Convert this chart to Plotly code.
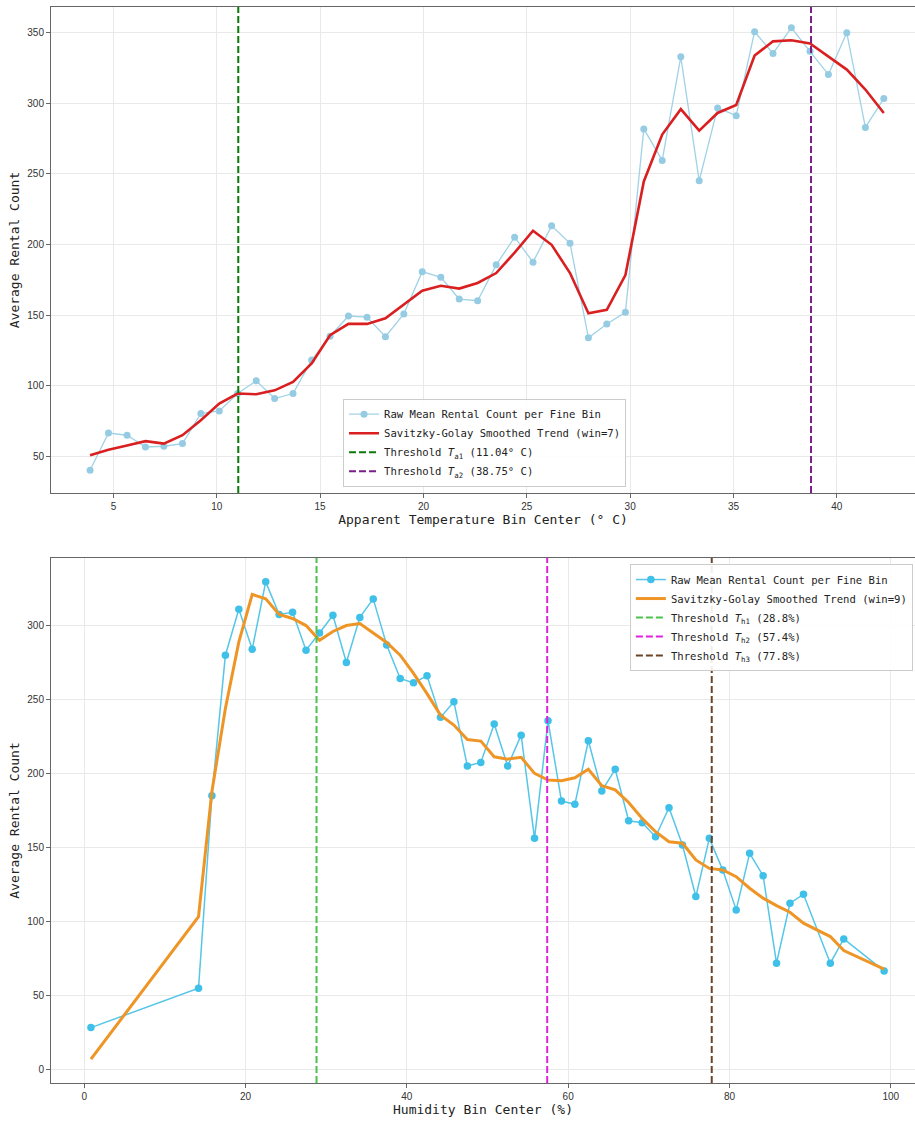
import plotly.graph_objects as go

# ---------------- data: apparent temperature panel ----------------
temp_bin_center = [3.87, 4.76, 5.66, 6.55, 7.44, 8.34, 9.23, 10.12, 11.01, 11.91,
                   12.80, 13.69, 14.59, 15.48, 16.37, 17.27, 18.16, 19.05, 19.94, 20.84,
                   21.73, 22.62, 23.52, 24.41, 25.30, 26.20, 27.09, 27.98, 28.87, 29.77,
                   30.66, 31.55, 32.45, 33.34, 34.23, 35.13, 36.02, 36.91, 37.80, 38.70,
                   39.59, 40.48, 41.38, 42.27]
temp_raw_mean = [40.1, 66.5, 64.9, 56.6, 57.1, 59.0, 80.3, 82.1, 94.4, 103.4,
                 90.9, 94.4, 118.1, 135.0, 149.3, 148.5, 134.6, 150.7, 180.7, 176.7,
                 161.3, 160.1, 185.5, 205.1, 187.4, 213.1, 200.8, 133.9, 143.6, 151.9,
                 281.7, 259.4, 332.7, 245.0, 296.6, 291.1, 350.5, 335.1, 353.3, 336.7,
                 320.2, 349.7, 282.8, 303.2]
temp_smoothed = [50.7, 54.7, 57.7, 60.7, 59.0, 64.9, 75.5, 87.3, 94.4, 93.9,
                 96.7, 102.7, 115.7, 135.7, 143.7, 143.7, 147.7, 157.7, 167.2, 170.7,
                 168.7, 172.7, 179.7, 194.2, 209.7, 199.7, 179.7, 151.2, 153.7, 178.3,
                 244.5, 277.7, 295.7, 280.5, 293.0, 298.7, 333.7, 343.7, 344.5, 342.2,
                 333.2, 323.7, 309.6, 293.0]
temp_thresholds = [11.04, 38.75]
temp_xticks = [5, 10, 15, 20, 25, 30, 35, 40]
temp_yticks = [50, 100, 150, 200, 250, 300, 350]

# ---------------- data: humidity panel ----------------
hum_bin_center = [0.83, 14.17, 15.83, 17.5, 19.17, 20.83, 22.5, 24.17, 25.83, 27.5,
                  29.17, 30.83, 32.5, 34.17, 35.83, 37.5, 39.17, 40.83, 42.5, 44.17,
                  45.83, 47.5, 49.17, 50.83, 52.5, 54.17, 55.83, 57.5, 59.17, 60.83,
                  62.5, 64.17, 65.83, 67.5, 69.17, 70.83, 72.5, 74.17, 75.83, 77.5,
                  79.17, 80.83, 82.5, 84.17, 85.83, 87.5, 89.17, 92.5, 94.17, 99.17]
hum_raw_mean = [28.5, 55.1, 185.1, 280.0, 311.0, 284.0, 329.5, 307.5, 309.0, 283.4,
                295.0, 307.0, 275.0, 305.5, 318.0, 286.8, 264.3, 261.3, 266.1, 238.0,
                248.5, 205.1, 207.6, 233.5, 205.1, 226.0, 156.3, 235.7, 181.5, 179.3,
                222.2, 188.3, 202.9, 168.2, 166.9, 157.4, 177.0, 151.8, 117.0, 156.3,
                135.0, 108.0, 146.2, 131.1, 72.0, 112.5, 118.5, 72.0, 88.4, 66.8]
hum_smoothed = [7.2, 103.4, 188.0, 244.0, 289.0, 321.0, 318.0, 307.5, 304.8, 300.0,
                290.0, 296.0, 300.0, 301.4, 295.0, 288.6, 280.0, 267.7, 254.0, 239.5,
                232.8, 223.0, 222.0, 211.4, 209.8, 211.0, 200.2, 195.7, 195.2, 197.2,
                203.0, 191.8, 189.0, 180.5, 169.8, 160.8, 154.0, 153.0, 141.7, 136.0,
                135.0, 130.4, 122.6, 115.9, 110.9, 106.4, 99.0, 90.0, 80.5, 68.0]
hum_thresholds = [28.8, 57.4, 77.8]
hum_xticks = [0, 20, 40, 60, 80, 100]
hum_yticks = [0, 50, 100, 150, 200, 250, 300]

MONO = "DejaVu Sans Mono"
TICKFONT = dict(family="Liberation Sans", size=10, color="#333333")
DASH = "7px,3px"

fig = go.Figure()

# ---- top panel traces ----
fig.add_trace(go.Scatter(
    x=temp_bin_center, y=temp_raw_mean, mode="lines+markers",
    name="Raw Mean Rental Count per Fine Bin",
    line=dict(color="#a0d2e6", width=1.3),
    marker=dict(color="#95cce3", size=7),
    xaxis="x", yaxis="y", legend="legend"))
fig.add_trace(go.Scatter(
    x=temp_bin_center, y=temp_smoothed, mode="lines",
    name="Savitzky-Golay Smoothed Trend (win=7)",
    line=dict(color="#d91f1f", width=2.6),
    xaxis="x", yaxis="y", legend="legend"))

temp_th_colors = ["#0a7a0a", "#7a1f86"]
temp_th_names = ["Threshold <i>T</i><sub>a1</sub> (11.04° C)",
                 "Threshold <i>T</i><sub>a2</sub> (38.75° C)"]
for t, c, n in zip(temp_thresholds, temp_th_colors, temp_th_names):
    fig.add_shape(type="line", xref="x", yref="y domain", x0=t, x1=t, y0=0, y1=1,
                  line=dict(color=c, width=2, dash=DASH))
    fig.add_trace(go.Scatter(x=[None], y=[None], mode="lines", name=n,
                             line=dict(color=c, width=2, dash=DASH),
                             xaxis="x", yaxis="y", legend="legend"))

# ---- bottom panel traces ----
fig.add_trace(go.Scatter(
    x=hum_bin_center, y=hum_raw_mean, mode="lines+markers",
    name="Raw Mean Rental Count per Fine Bin",
    line=dict(color="#55c6e8", width=1.5),
    marker=dict(color="#3ec0e8", size=7.5),
    xaxis="x2", yaxis="y2", legend="legend2"))
fig.add_trace(go.Scatter(
    x=hum_bin_center, y=hum_smoothed, mode="lines",
    name="Savitzky-Golay Smoothed Trend (win=9)",
    line=dict(color="#ee9526", width=3),
    xaxis="x2", yaxis="y2", legend="legend2"))

hum_th_colors = ["#4cc24c", "#dd22dd", "#6a4426"]
hum_th_names = ["Threshold <i>T</i><sub>h1</sub> (28.8%)",
                "Threshold <i>T</i><sub>h2</sub> (57.4%)",
                "Threshold <i>T</i><sub>h3</sub> (77.8%)"]
for t, c, n in zip(hum_thresholds, hum_th_colors, hum_th_names):
    fig.add_shape(type="line", xref="x2", yref="y2 domain", x0=t, x1=t, y0=0, y1=1,
                  line=dict(color=c, width=2, dash=DASH))
    fig.add_trace(go.Scatter(x=[None], y=[None], mode="lines", name=n,
                             line=dict(color=c, width=2, dash=DASH),
                             xaxis="x2", yaxis="y2", legend="legend2"))

axis_common = dict(showgrid=True, gridcolor="#e9e9e9", gridwidth=1,
                   zeroline=False, showline=True, linecolor="#666666", linewidth=1,
                   ticks="outside", ticklen=4, tickcolor="#666666",
                   tickfont=TICKFONT, automargin=False)
title_font = dict(family=MONO, size=13, color="#222")

fig.update_layout(
    width=915, height=1122,
    margin=dict(l=51, r=0, t=7, b=39, autoexpand=False),
    paper_bgcolor="white", plot_bgcolor="white",
    xaxis=dict(domain=[0, 1], anchor="y", range=[1.98, 43.78],
               tickvals=temp_xticks, mirror=True,
               title=dict(text="Apparent Temperature Bin Center (° C)",
                          font=title_font, standoff=2),
               **axis_common),
    yaxis=dict(domain=[0.5483, 1], anchor="x", range=[24, 368],
               tickvals=temp_yticks,
               title=dict(text="Average Rental Count", font=title_font, standoff=4),
               **axis_common),
    xaxis2=dict(domain=[0, 1], anchor="y2", range=[-4.12, 103.0],
                tickvals=hum_xticks, mirror=True,
                title=dict(text="Humidity Bin Center (%)", font=title_font, standoff=2),
                **axis_common),
    yaxis2=dict(domain=[0, 0.4879], anchor="x2", range=[-8.9, 345.6],
                tickvals=hum_yticks,
                title=dict(text="Average Rental Count", font=title_font, standoff=4),
                **axis_common),
    legend=dict(x=0.338, y=0.5542, xanchor="left", yanchor="bottom",
                bgcolor="rgba(255,255,255,0.9)", bordercolor="#cccccc", borderwidth=1,
                font=dict(family=MONO, size=10.6, color="#222"),
                tracegroupgap=0, itemwidth=30),
    legend2=dict(x=0.670, y=0.4823, xanchor="left", yanchor="top",
                 bgcolor="rgba(255,255,255,0.9)", bordercolor="#cccccc", borderwidth=1,
                 font=dict(family=MONO, size=10.6, color="#222"),
                 tracegroupgap=0, itemwidth=30),
    showlegend=True,
)

fig.write_html(
    "out.html",
    config={"displayModeBar": False},
    post_script="document.body.style.margin='0';document.body.style.overflow='hidden';",
)
